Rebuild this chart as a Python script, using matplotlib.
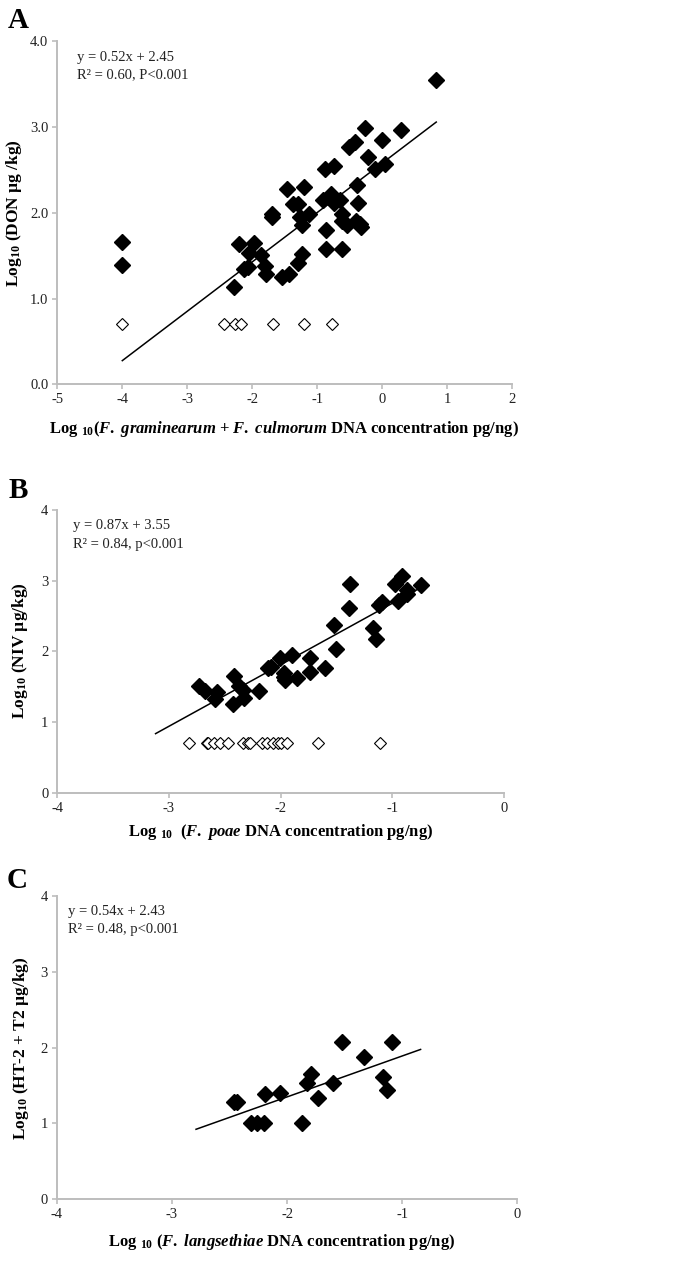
import numpy as np
import matplotlib
matplotlib.use("Agg")
import matplotlib.pyplot as plt

# Data:
# Panel A - DON vs F. graminearum + F. culmorum DNA
a_x = [-4.00, -4.00, -2.28, -2.20, -2.13, -2.06, -2.05, -1.97, -1.86, -1.80, -1.79, -1.70, -1.70,
       -1.54, -1.44, -1.47, -1.38, -1.29, -1.30, -1.27, -1.24, -1.21, -1.23, -1.12, -0.91, -0.86,
       -0.87, -0.79, -0.74, -0.65, -0.62, -0.62, -0.62, -0.55, -0.39, -0.37, -0.40, -0.34, -0.32,
       0.83, -0.27, 0.29, -0.51, -0.42, 0.00, -0.22, -0.11, 0.04, -0.88, -0.75]
a_y = [1.66, 1.39, 1.13, 1.64, 1.34, 1.37, 1.53, 1.65, 1.51, 1.38, 1.29, 1.95, 1.99,
       1.25, 1.29, 2.28, 2.10, 2.10, 1.41, 1.95, 1.86, 2.30, 1.52, 1.99, 2.15, 1.80,
       1.58, 2.22, 2.11, 2.15, 1.99, 1.90, 1.58, 1.86, 2.32, 2.12, 1.90, 1.87, 1.84,
       3.55, 2.99, 2.96, 2.77, 2.83, 2.85, 2.65, 2.51, 2.57, 2.51, 2.54]
a_open_x = [-4.00, -2.43, -2.27, -2.18, -1.68, -1.20, -0.77]
a_fit = (0.576, 2.58)
a_fit_x = (-4.0, 0.83)

# Panel B - NIV vs F. poae DNA
b_x = [-2.73, -2.68, -2.57, -2.59, -2.42, -2.43, -2.37, -2.34, -2.33, -2.19, -2.11, -2.09,
       -2.01, -1.97, -1.96, -1.97, -1.90, -1.85, -1.74, -1.74, -1.60, -1.52, -1.50, -1.17,
       -1.15, -1.38, -1.39, -1.12, -1.09, -0.98, -0.91, -0.95, -0.87, -0.87, -0.74]
b_y = [1.51, 1.44, 1.43, 1.32, 1.65, 1.25, 1.51, 1.46, 1.34, 1.44, 1.76, 1.78,
       1.91, 1.70, 1.59, 1.64, 1.95, 1.62, 1.90, 1.71, 1.77, 2.37, 2.04, 2.33,
       2.18, 2.95, 2.62, 2.65, 2.70, 2.96, 3.06, 2.71, 2.87, 2.81, 2.94]
b_open_x = [-2.82, -2.66, -2.65, -2.60, -2.54, -2.47, -2.34, -2.29, -2.27, -2.17, -2.12,
            -2.07, -2.02, -2.00, -1.94, -1.67, -1.11]
b_fit = (0.87, 3.55)
b_fit_x = (-3.12, -0.74)

# Panel C - HT-2 + T2 vs F. langsethiae DNA
c_x = [-2.46, -2.43, -2.31, -2.26, -2.20, -2.19, -2.06, -1.87, -1.83, -1.79, -1.73, -1.60,
       -1.52, -1.33, -1.17, -1.13, -1.09]
c_y = [1.28, 1.28, 1.00, 1.00, 1.00, 1.39, 1.40, 1.00, 1.53, 1.65, 1.34, 1.54,
       2.08, 1.88, 1.61, 1.44, 2.07]
c_fit = (0.54, 2.43)
c_fit_x = (-2.79, -0.84)

open_y = 0.70  # value of the non-detect points

# Text:
eq_a = ["y = 0.52x + 2.45", "R\u00b2 = 0.60, P<0.001"]
eq_b = ["y = 0.87x + 3.55", "R\u00b2 = 0.84, p<0.001"]
eq_c = ["y = 0.54x + 2.43", "R\u00b2 = 0.48, p<0.001"]

plt.rcParams['font.family'] = ['Liberation Serif', 'DejaVu Serif']
plt.rcParams['axes.unicode_minus'] = False
plt.rcParams['mathtext.fontset'] = 'custom'
plt.rcParams['mathtext.rm'] = 'Liberation Serif:bold'
plt.rcParams['mathtext.bf'] = 'Liberation Serif:bold'
plt.rcParams['mathtext.it'] = 'Liberation Serif:bold:italic'

W, H = 685, 1266
fig = plt.figure(figsize=(W / 100, H / 100), dpi=100)


def px(x, y):
    # pixel position -> figure fraction
    return x / W, 1.0 - y / H


def make_axes(left, top, right, bottom):
    x0, y0 = px(left, bottom)
    x1, y1 = px(right, top)
    return fig.add_axes([x0, y0, x1 - x0, y1 - y0])


def style(ax, xlim, xticks, yticks, yfmt):
    for s in ("top", "right"):
        ax.spines[s].set_visible(False)
    for s in ("left", "bottom"):
        ax.spines[s].set_color("#bdbdbd")
        ax.spines[s].set_linewidth(1.4)
    ax.set_xlim(*xlim)
    ax.set_ylim(0, 4)
    ax.set_xticks(xticks)
    ax.set_yticks(yticks)
    ax.set_yticklabels([yfmt % v for v in yticks])
    ax.tick_params(length=3.5, width=1.2, color="#bdbdbd", labelsize=10.5,
                   labelcolor="#222222", pad=3)


def scatter_panel(ax, x, y, open_x, fit, fit_x):
    ax.plot(x, y, ls="none", marker="D", ms=7.8, mfc="black", mec="black", zorder=3)
    if open_x:
        ax.plot(open_x, [open_y] * len(open_x), ls="none", marker="D", ms=6.6,
                mfc="white", mec="black", mew=0.8, zorder=3)
    fx = np.array(fit_x)
    ax.plot(fx, fit[0] * fx + fit[1], color="black", lw=1.1, zorder=2)


def eq_text(lines, x, y):
    for i, s in enumerate(lines):
        fig.text(*px(x, y + i * 18), s, fontsize=10.5, color="#222222", va="center", ha="left")


# % Panel A:
axA = make_axes(57.3, 41.3, 512.3, 384.3)
scatter_panel(axA, a_x, a_y, a_open_x, a_fit, a_fit_x)
style(axA, (-5, 2), range(-5, 3), [0, 1, 2, 3, 4], "%.1f")
eq_text(eq_a, 77, 57)
fig.text(*px(8, 20), "A", fontsize=21, fontweight="bold", va="center", ha="left")
fig.text(*px(284, 429), r"Log $_{10}$($\mathit{F.\ graminearum}$ + $\mathit{F.\ culmorum}$ DNA concentration pg/ng)",
         fontsize=12, fontweight="bold", ha="center", va="center")
fig.text(*px(14, 213), r"Log$_{10}$ (DON µg /kg)", fontsize=12.5, fontweight="bold",
         rotation=90, ha="center", va="center")

# % Panel B:
axB = make_axes(57.3, 510, 504, 792.7)
scatter_panel(axB, b_x, b_y, b_open_x, b_fit, b_fit_x)
style(axB, (-4, 0), range(-4, 1), [0, 1, 2, 3, 4], "%d")
eq_text(eq_b, 73, 526)
fig.text(*px(9, 490), "B", fontsize=21, fontweight="bold", va="center", ha="left")
fig.text(*px(281, 832), r"Log $_{10}$  ($\mathit{F.\ poae}$ DNA concentration pg/ng)",
         fontsize=12, fontweight="bold", ha="center", va="center")
fig.text(*px(20, 651), r"Log$_{10}$ (NIV µg/kg)", fontsize=12.5, fontweight="bold",
         rotation=90, ha="center", va="center")

# % Panel C:
axC = make_axes(56.7, 896, 517.3, 1199.3)
scatter_panel(axC, c_x, c_y, [], c_fit, c_fit_x)
style(axC, (-4, 0), range(-4, 1), [0, 1, 2, 3, 4], "%d")
eq_text(eq_c, 68, 911)
fig.text(*px(7, 881), "C", fontsize=21, fontweight="bold", va="center", ha="left")
fig.text(*px(282, 1242), r"Log $_{10}$ ($\mathit{F.\ langsethiae}$ DNA concentration pg/ng)",
         fontsize=12, fontweight="bold", ha="center", va="center")
fig.text(*px(21, 1048), r"Log$_{10}$ (HT-2 + T2 µg/kg)", fontsize=12.5, fontweight="bold",
         rotation=90, ha="center", va="center")

fig.savefig("out.png", dpi=100)
